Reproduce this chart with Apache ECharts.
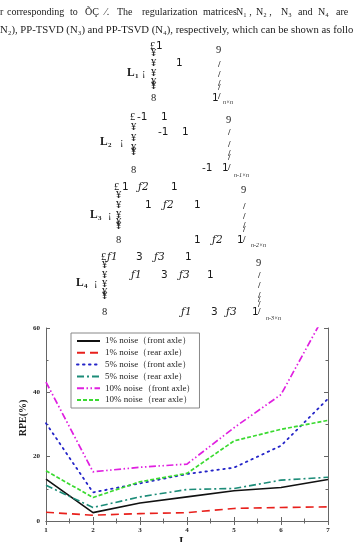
<!DOCTYPE html>
<html>
<head>
<meta charset="utf-8">
<script src="https://cdn.jsdelivr.net/npm/echarts@6/dist/echarts.min.js"></script>
<style>
html,body{margin:0;padding:0;background:#fff;}
#c{width:358px;height:542px;}
</style>
</head>
<body>
<div id="c"></div>
<script>
// ---- data ----
const xValues = [1, 2, 3, 4, 5, 6, 7];
const seriesNames = [
  '1% noise（front axle）',
  '1% noise（rear axle）',
  '5% noise（front axle）',
  '5% noise（rear axle）',
  '10% noise（front axle）',
  '10% noise（rear axle）'
];
const noise1Front = [13.0, 2.6, 5.6, 7.5, 9.4, 10.4, 12.9];
const noise1Rear  = [2.7, 1.8, 2.3, 2.6, 3.9, 4.2, 4.4];
const noise5Front = [30.4, 8.9, 11.7, 14.6, 16.6, 23.4, 38.0];
const noise5Rear  = [11.1, 4.2, 7.5, 9.8, 10.1, 12.7, 13.6];
const noise10Front = [43.2, 15.3, 16.7, 17.7, 29.0, 39.3, 66.0];
const noise10Rear  = [15.6, 7.3, 12.2, 14.8, 24.9, 28.5, 31.3];
const yTicks = [0, 20, 40, 60];

// ---- styles ----
const seriesValues = [noise1Front, noise1Rear, noise5Front, noise5Rear, noise10Front, noise10Rear];
const seriesStyles = [
  {color: '#111111', type: 'solid', width: 1.6},
  {color: '#e8201c', type: [8, 5], width: 1.6},
  {color: '#2424c8', type: [1.5, 4.5], width: 1.8, cap: 'round'},
  {color: '#1c8c78', type: [7, 3, 2, 3], width: 1.6},
  {color: '#e020e0', type: [7, 2.5, 1.5, 2.5, 1.5, 2.5], width: 1.7},
  {color: '#3ada30', type: [4, 2], width: 1.7}
];

const serif = 'Liberation Serif, Times New Roman, serif';
const sans = 'DejaVu Sans, sans-serif';

function T(text, x, y, o) {
  o = o || {};
  return {
    type: 'text', silent: true, x: x, y: y,
    rotation: o.rotation || 0,
    style: {
      text: text, x: 0, y: 0,
      fontSize: o.size || 10.5,
      fontFamily: o.family || sans,
      fontWeight: o.weight || 'normal',
      fontStyle: o.style || 'normal',
      fill: o.fill || '#1a1a1a',
      align: o.align || 'left',
      verticalAlign: 'middle'
    }
  };
}

const g = [];
// paragraph text
const p = {family: serif, size: 10};
[['r', 0], ['corresponding', 7], ['to', 70], ['ÕÇ', 85], ['⁄.', 105], ['The', 117],
 ['regularization', 142], ['matrices', 203], ['N₁ ,', 236], ['N₂ ,', 256], ['N₃', 281],
 ['and', 298], ['N₄', 318], ['are', 336]].forEach(s => g.push(T(s[0], s[1], 12, p)));
g.push(T('N₂), PP-TSVD (N₃) and PP-TSVD (N₄), respectively, which can be shown as follo', 0, 30, {family: serif, size: 10.7}));

// matrix blocks
const gl = {family: serif, size: 10.5};
const num = {family: sans, size: 10.5};
const fx = {family: 'DejaVu Serif, serif', size: 10.5, style: 'italic'};
const sub = {family: serif, size: 6, style: 'italic'};
const Lb = {family: serif, size: 11.5, weight: 'bold'};
const Ls = {family: serif, size: 7, weight: 'bold'};
function brace(x, ys, yb) {
  ys.forEach(y => g.push(T('¥', x, y, gl)));
  g.push(T('8', x, yb, {family: serif, size: 10.5}));
}
function rbrace(x, y9, ys) {
  g.push(T('9', x - 2, y9, {family: serif, size: 10.5}));
  ys.forEach(y => g.push(T('/', x, y, {family: serif, size: 9, weight: 'bold'})));
}
// L1
g.push(T('£', 150, 46, gl)); g.push(T('1', 156, 46, num));
brace(151, [53, 63, 73, 82, 86], 98);
g.push(T('L', 127, 73, Lb)); g.push(T('1', 135, 76, Ls)); g.push(T('¡', 142, 73, gl));
g.push(T('1', 176, 63, num));
rbrace(218, 50, [65, 75, 84, 88, 97]);
g.push(T('1', 212, 98, num)); g.push(T('n×n', 223, 102, sub));
// L2
g.push(T('£', 130, 117, gl)); g.push(T('-1', 137, 117, num)); g.push(T('1', 161, 117, num));
brace(131, [127, 138, 148, 152], 170);
g.push(T('L', 100, 142, Lb)); g.push(T('2', 108, 145, Ls)); g.push(T('¡', 120, 142, gl));
g.push(T('-1', 158, 132, num)); g.push(T('1', 182, 132, num));
rbrace(228, 120, [133, 145, 154, 158, 168]);
g.push(T('-1', 202, 168, num)); g.push(T('1', 222, 168, num));
g.push(T('n-1×n', 234, 175, sub));
// L3
g.push(T('£', 114, 187, gl)); g.push(T('1', 122, 187, num)); g.push(T('ƒ2', 138, 187, fx)); g.push(T('1', 171, 187, num));
brace(116, [195, 205, 215, 222, 226], 240);
g.push(T('L', 90, 215, Lb)); g.push(T('3', 98, 218, Ls)); g.push(T('¡', 108, 215, gl));
g.push(T('1', 145, 205, num)); g.push(T('ƒ2', 163, 205, fx)); g.push(T('1', 194, 205, num));
rbrace(243, 190, [207, 217, 226, 230, 240]);
g.push(T('1', 194, 240, num)); g.push(T('ƒ2', 212, 240, fx)); g.push(T('1', 237, 240, num));
g.push(T('n-2×n', 251, 245, sub));
// L4
g.push(T('£', 101, 257, gl)); g.push(T('ƒ1', 107, 257, fx)); g.push(T('3', 136, 257, num)); g.push(T('ƒ3', 154, 257, fx)); g.push(T('1', 185, 257, num));
brace(102, [265, 275, 284, 292, 296], 312);
g.push(T('L', 76, 283, Lb)); g.push(T('4', 84, 286, Ls)); g.push(T('¡', 94, 283, gl));
g.push(T('ƒ1', 131, 275, fx)); g.push(T('3', 161, 275, num)); g.push(T('ƒ3', 179, 275, fx)); g.push(T('1', 207, 275, num));
rbrace(258, 263, [276, 286, 296, 300, 305, 312]);
g.push(T('ƒ1', 181, 312, fx)); g.push(T('3', 211, 312, num)); g.push(T('ƒ3', 226, 312, fx)); g.push(T('1', 252, 312, num));
g.push(T('n-3×n', 266, 318, sub));

// axis names
g.push(T('RPE(%)', 23, 418, {family: serif, size: 10, weight: 'bold', align: 'center', rotation: Math.PI / 2}));
g.push(T('L', 183, 541, {family: serif, size: 11, weight: 'bold', align: 'center'}));

const axisCommon = {
  axisLine: {show: true, lineStyle: {color: '#666', width: 1}},
  axisTick: {show: true, inside: true, length: 4, lineStyle: {color: '#666'}},
  minorTick: {show: true, splitNumber: 2, length: 2.5, lineStyle: {color: '#666'}},
  splitLine: {show: false},
  axisLabel: {fontFamily: serif, fontSize: 7, fontWeight: 'bold', color: '#222'}
};

const chart = echarts.init(document.getElementById('c'), null, {renderer: 'canvas'});
chart.setOption({
  backgroundColor: '#fff',
  animation: false,
  grid: {left: 46, top: 328, width: 282, height: 193},
  xAxis: [
    Object.assign({}, axisCommon, {type: 'value', min: 1, max: 7, interval: 1, position: 'bottom',
      axisLabel: Object.assign({}, axisCommon.axisLabel, {margin: 6})}),
    Object.assign({}, axisCommon, {type: 'value', min: 1, max: 7, interval: 1, position: 'top',
      axisLabel: {show: false}})
  ],
  yAxis: [
    Object.assign({}, axisCommon, {type: 'value', min: 0, max: 60, interval: 20, position: 'left',
      axisLabel: Object.assign({}, axisCommon.axisLabel, {margin: 6,
        formatter: v => yTicks.indexOf(v) >= 0 ? String(v) : ''})}),
    Object.assign({}, axisCommon, {type: 'value', min: 0, max: 60, interval: 20, position: 'right',
      axisLabel: {show: false}})
  ],
  legend: {
    orient: 'vertical', left: 71, top: 333,
    itemWidth: 23, itemHeight: 8, itemGap: 1.8,
    padding: [3, 4, 3, 5],
    borderColor: '#888', borderWidth: 1, backgroundColor: '#fff',
    itemStyle: {color: 'transparent', borderWidth: 0, opacity: 0},
    textStyle: {fontFamily: serif, fontSize: 9, lineHeight: 10, color: '#222'},
    data: seriesNames
  },
  series: seriesNames.map((name, i) => ({
    name: name, type: 'line', symbol: 'none', clip: true,
    data: xValues.map((x, j) => [x, seriesValues[i][j]]),
    lineStyle: seriesStyles[i],
    itemStyle: {color: seriesStyles[i].color},
    z: 3
  })),
  graphic: g
});
</script>
</body>
</html>
